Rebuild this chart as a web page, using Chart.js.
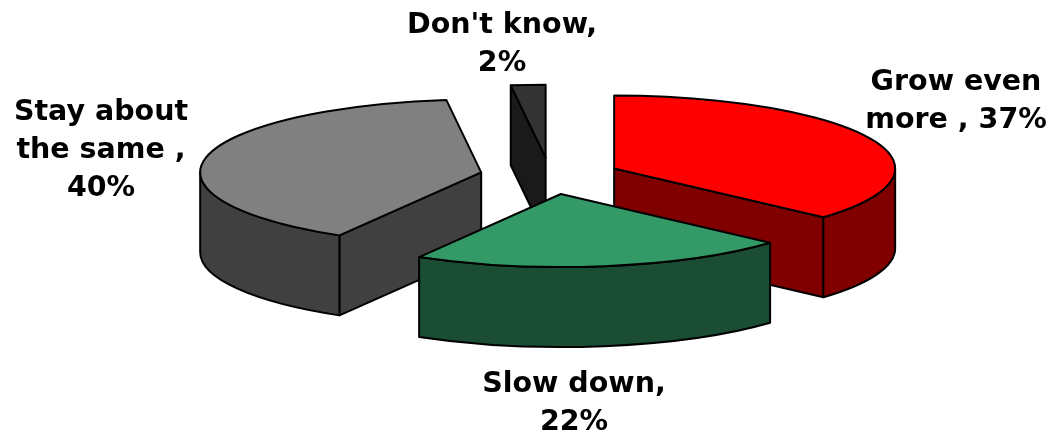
<!DOCTYPE html>
<html>
<head>
<meta charset="utf-8">
<style>
  html, body { margin: 0; padding: 0; background: #fff; }
  #wrap { width: 1055px; height: 433px; }
</style>
<script src="https://cdn.jsdelivr.net/npm/chart.js"></script>
</head>
<body>
<div id="wrap"><canvas id="pieChart"></canvas></div>
<script>
// data
const categories = ['Grow even more', 'Slow down', 'Stay about the same', "Don't know"];
const shares = [37, 22, 40, 2];
const labelLines = [
    ['Grow even', 'more , 37%'],
    ['Slow down,', '22%'],
    ['Stay about', 'the same ,', '40%'],
    ["Don't know,", '2%']
];

// styles
const topColors = ['#ff0000', '#339966', '#808080', '#333333'];
const wallColors = ['#800000', '#1a4d33', '#404040', '#1a1a1a'];
const labelAnchors = [[956, 90], [574, 392], [101, 120], [502, 33]];
const labelFont = 'bold 28.5px "DejaVu Sans"';
const labelLeading = 38;

// geometry of the tilted pie
const pieX = 550, pieY = 176;
const radiusX = 281, radiusY = 73;
const depth = 80;
const explode = 0.25;
const drawOrder = [3, 2, 0, 1];   // back to front

// corner of a slice on the ellipse, angle in chart.js convention
function rim(c, a) {
    return [c.x + radiusX * Math.cos(a), c.y + radiusY * Math.sin(a)];
}

function sideWall(ctx, c, a, color) {
    const p = rim(c, a);
    ctx.beginPath();
    ctx.moveTo(c.x, c.y);
    ctx.lineTo(p[0], p[1]);
    ctx.lineTo(p[0], p[1] + depth);
    ctx.lineTo(c.x, c.y + depth);
    ctx.closePath();
    ctx.fillStyle = color;
    ctx.fill();
    ctx.stroke();
}

const pie3d = {
    id: 'pie3d',
    beforeDatasetDraw(chart, args) {
        const ctx = chart.ctx;
        const arcs = chart.getDatasetMeta(args.index).data;
        ctx.save();
        ctx.lineWidth = 2;
        ctx.lineJoin = 'round';
        ctx.strokeStyle = '#000';
        drawOrder.forEach(function (i) {
            const el = arcs[i];
            const start = el.startAngle, end = el.endAngle;
            const mid = (start + end) / 2;
            const c = {
                x: pieX + explode * radiusX * Math.cos(mid),
                y: pieY + explode * radiusY * Math.sin(mid)
            };

            // cut faces that look towards the viewer
            if (Math.cos(start) < -1e-6) sideWall(ctx, c, start, wallColors[i]);
            if (Math.cos(end) > 1e-6) sideWall(ctx, c, end, wallColors[i]);

            // outer curved wall, only the front half of the ellipse shows
            const a1 = Math.max(start, 0), a2 = Math.min(end, Math.PI);
            if (a2 > a1) {
                ctx.beginPath();
                ctx.ellipse(c.x, c.y, radiusX, radiusY, 0, a1, a2);
                ctx.ellipse(c.x, c.y + depth, radiusX, radiusY, 0, a2, a1, true);
                ctx.closePath();
                ctx.fillStyle = wallColors[i];
                ctx.fill();
                ctx.stroke();
            }

            // top face is the library's own arc, squashed into place
            ctx.save();
            ctx.translate(c.x, c.y);
            ctx.scale(radiusX / el.outerRadius, radiusY / el.outerRadius);
            ctx.translate(-el.x, -el.y);
            el.draw(ctx);
            ctx.restore();

            ctx.beginPath();
            ctx.moveTo(c.x, c.y);
            ctx.ellipse(c.x, c.y, radiusX, radiusY, 0, start, end);
            ctx.closePath();
            ctx.stroke();
        });
        ctx.restore();
        return false;
    },
    afterDraw(chart) {
        const ctx = chart.ctx;
        ctx.save();
        ctx.font = labelFont;
        ctx.fillStyle = '#000';
        ctx.textAlign = 'center';
        ctx.textBaseline = 'alphabetic';
        labelLines.forEach(function (lines, i) {
            lines.forEach(function (line, n) {
                ctx.fillText(line, labelAnchors[i][0], labelAnchors[i][1] + n * labelLeading);
            });
        });
        ctx.restore();
    }
};

new Chart(document.getElementById('pieChart'), {
    type: 'pie',
    data: {
        labels: categories,
        datasets: [{
            data: shares,
            backgroundColor: topColors,
            borderWidth: 0
        }]
    },
    options: {
        responsive: true,
        maintainAspectRatio: false,
        animation: false,
        plugins: {
            legend: { display: false },
            tooltip: { enabled: false }
        }
    },
    plugins: [pie3d]
});
</script>
</body>
</html>
